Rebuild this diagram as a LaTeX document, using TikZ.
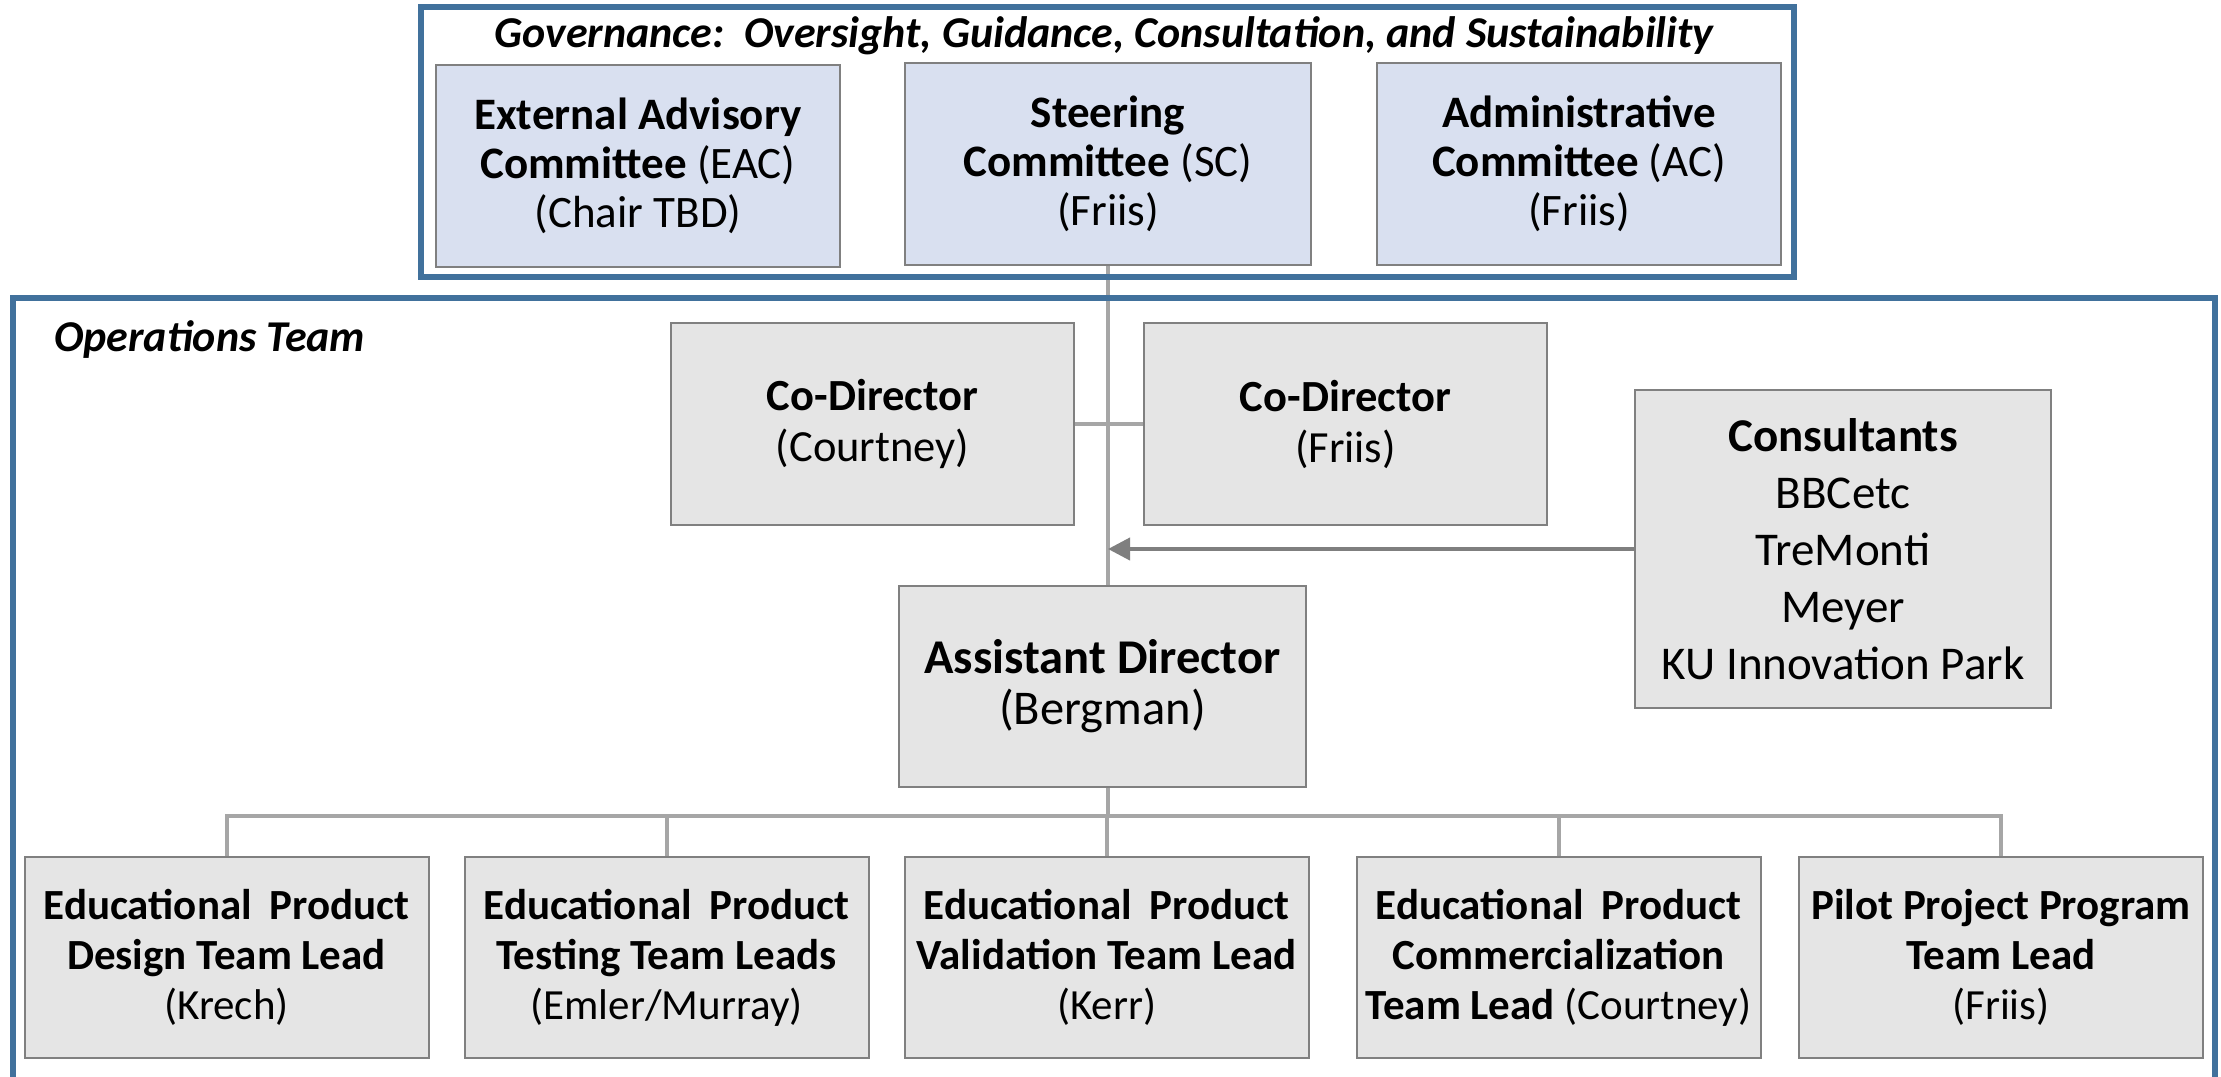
\documentclass[tikz,border=0pt]{standalone}
\usepackage{fontspec}
\setmainfont{Carlito}
\usetikzlibrary{arrows.meta,calc}
\definecolor{frameblue}{RGB}{65,113,156}
\definecolor{govfill}{RGB}{217,224,240}
\definecolor{opsfill}{RGB}{229,229,229}
\definecolor{boxline}{RGB}{128,128,128}
\definecolor{linkgray}{RGB}{166,166,166}
\definecolor{arrgray}{RGB}{127,127,127}
\begin{document}
\begin{tikzpicture}[x=1pt,y=-1pt,
  box/.style={draw=boxline, line width=2pt, minimum width=404pt, minimum height=202pt,
    align=center, font=\fontsize{43}{50}\selectfont, inner sep=0pt},
  govbox/.style={box, fill=govfill, font=\fontsize{45}{49}\selectfont},
  opsbox/.style={box, fill=opsfill},
  link/.style={draw=linkgray, line width=4pt},
  arr/.style={draw=arrgray, line width=4pt, -{Triangle[length=22pt,width=22pt]}},
  frame/.style={draw=frameblue, line width=5.5pt},
  caption/.style={font=\fontsize{44}{50}\selectfont\bfseries\itshape, inner sep=0pt}
]
\useasboundingbox (0,0) rectangle (2221,1076);
\fill[white] (0,0) rectangle (2221,1076);

% governance boxes
\node[govbox] (eac) at (638,166) {\textbf{External Advisory}\\\textbf{Committee} (EAC)\\(Chair TBD)};
\node[govbox, minimum width=406pt] (sc) at (1108,164) {\textbf{Steering}\\\textbf{Committee} (SC)\\(Friis)};
\node[govbox] (ac) at (1579,164) {\textbf{Administrative}\\\textbf{Committee} (AC)\\(Friis)};

% operations boxes
\node[opsbox, minimum width=403pt, font=\fontsize{44.5}{51}\selectfont] (cd1) at (872.5,424) {\textbf{Co-Director}\\(Courtney)};
\node[opsbox, minimum width=403pt, font=\fontsize{44.5}{51}\selectfont] (cd2) at (1345.5,424) {\textbf{Co-Director}\\(Friis)};
\node[opsbox, minimum width=416pt, minimum height=318pt, font=\fontsize{47}{57}\selectfont] (cons) at (1843,549)
  {\textbf{Consultants}\\BBCetc\\TreMonti\\Meyer\\KU Innovation Park};
\node[opsbox, minimum width=407pt, minimum height=201pt, font=\fontsize{48.5}{51}\selectfont] (ad) at (1102.5,686) {\textbf{Assistant Director}\\(Bergman)};

\node[opsbox, minimum height=201pt] (b1) at (226.5,957.5) {\textbf{Educational\hspace{8pt} Product}\\\textbf{Design Team Lead}\\(Krech)};
\node[opsbox, minimum height=201pt] (b2) at (666.5,957.5) {\textbf{Educational\hspace{8pt} Product}\\\textbf{Testing Team Leads}\\(Emler/Murray)};
\node[opsbox, minimum height=201pt] (b3) at (1106.5,957.5) {\textbf{Educational\hspace{8pt} Product}\\\textbf{Validation Team Lead}\\(Kerr)};
\node[opsbox, minimum height=201pt] (b4) at (1558.5,957.5) {\textbf{Educational\hspace{8pt} Product}\\\textbf{Commercialization}\\\textbf{Team Lead} (Courtney)};
\node[opsbox, minimum height=201pt] (b5) at (2001,957.5) {\textbf{Pilot Project Program}\\\textbf{Team Lead}\\(Friis)};

% connectors
\coordinate (bus) at (1108,816);
\draw[link] (sc.south) -- (sc.south |- ad.north);
\draw[link] (cd1.east) -- (cd2.west);
\draw[arr] (cons.west) -- (cons.west -| sc.south);
\draw[link] (bus |- ad.south) -- (bus);
\foreach \b in {b1,b2,b3,b4,b5} { \draw[link] (\b.north) |- (bus); }

% frames
\draw[frame] (421,7) rectangle (1794,277);
\draw[frame] (13,1080) -- (13,298) -- (2215,298) -- (2215,1080);

% captions
\node[caption, anchor=base] (govtitle) at (1104,47) {Governance:\ \ Oversight, Guidance, Consultation, and Sustainability};
\node[caption, anchor=base west] (opstitle) at (54,351) {Operations Team};
\end{tikzpicture}
\end{document}
